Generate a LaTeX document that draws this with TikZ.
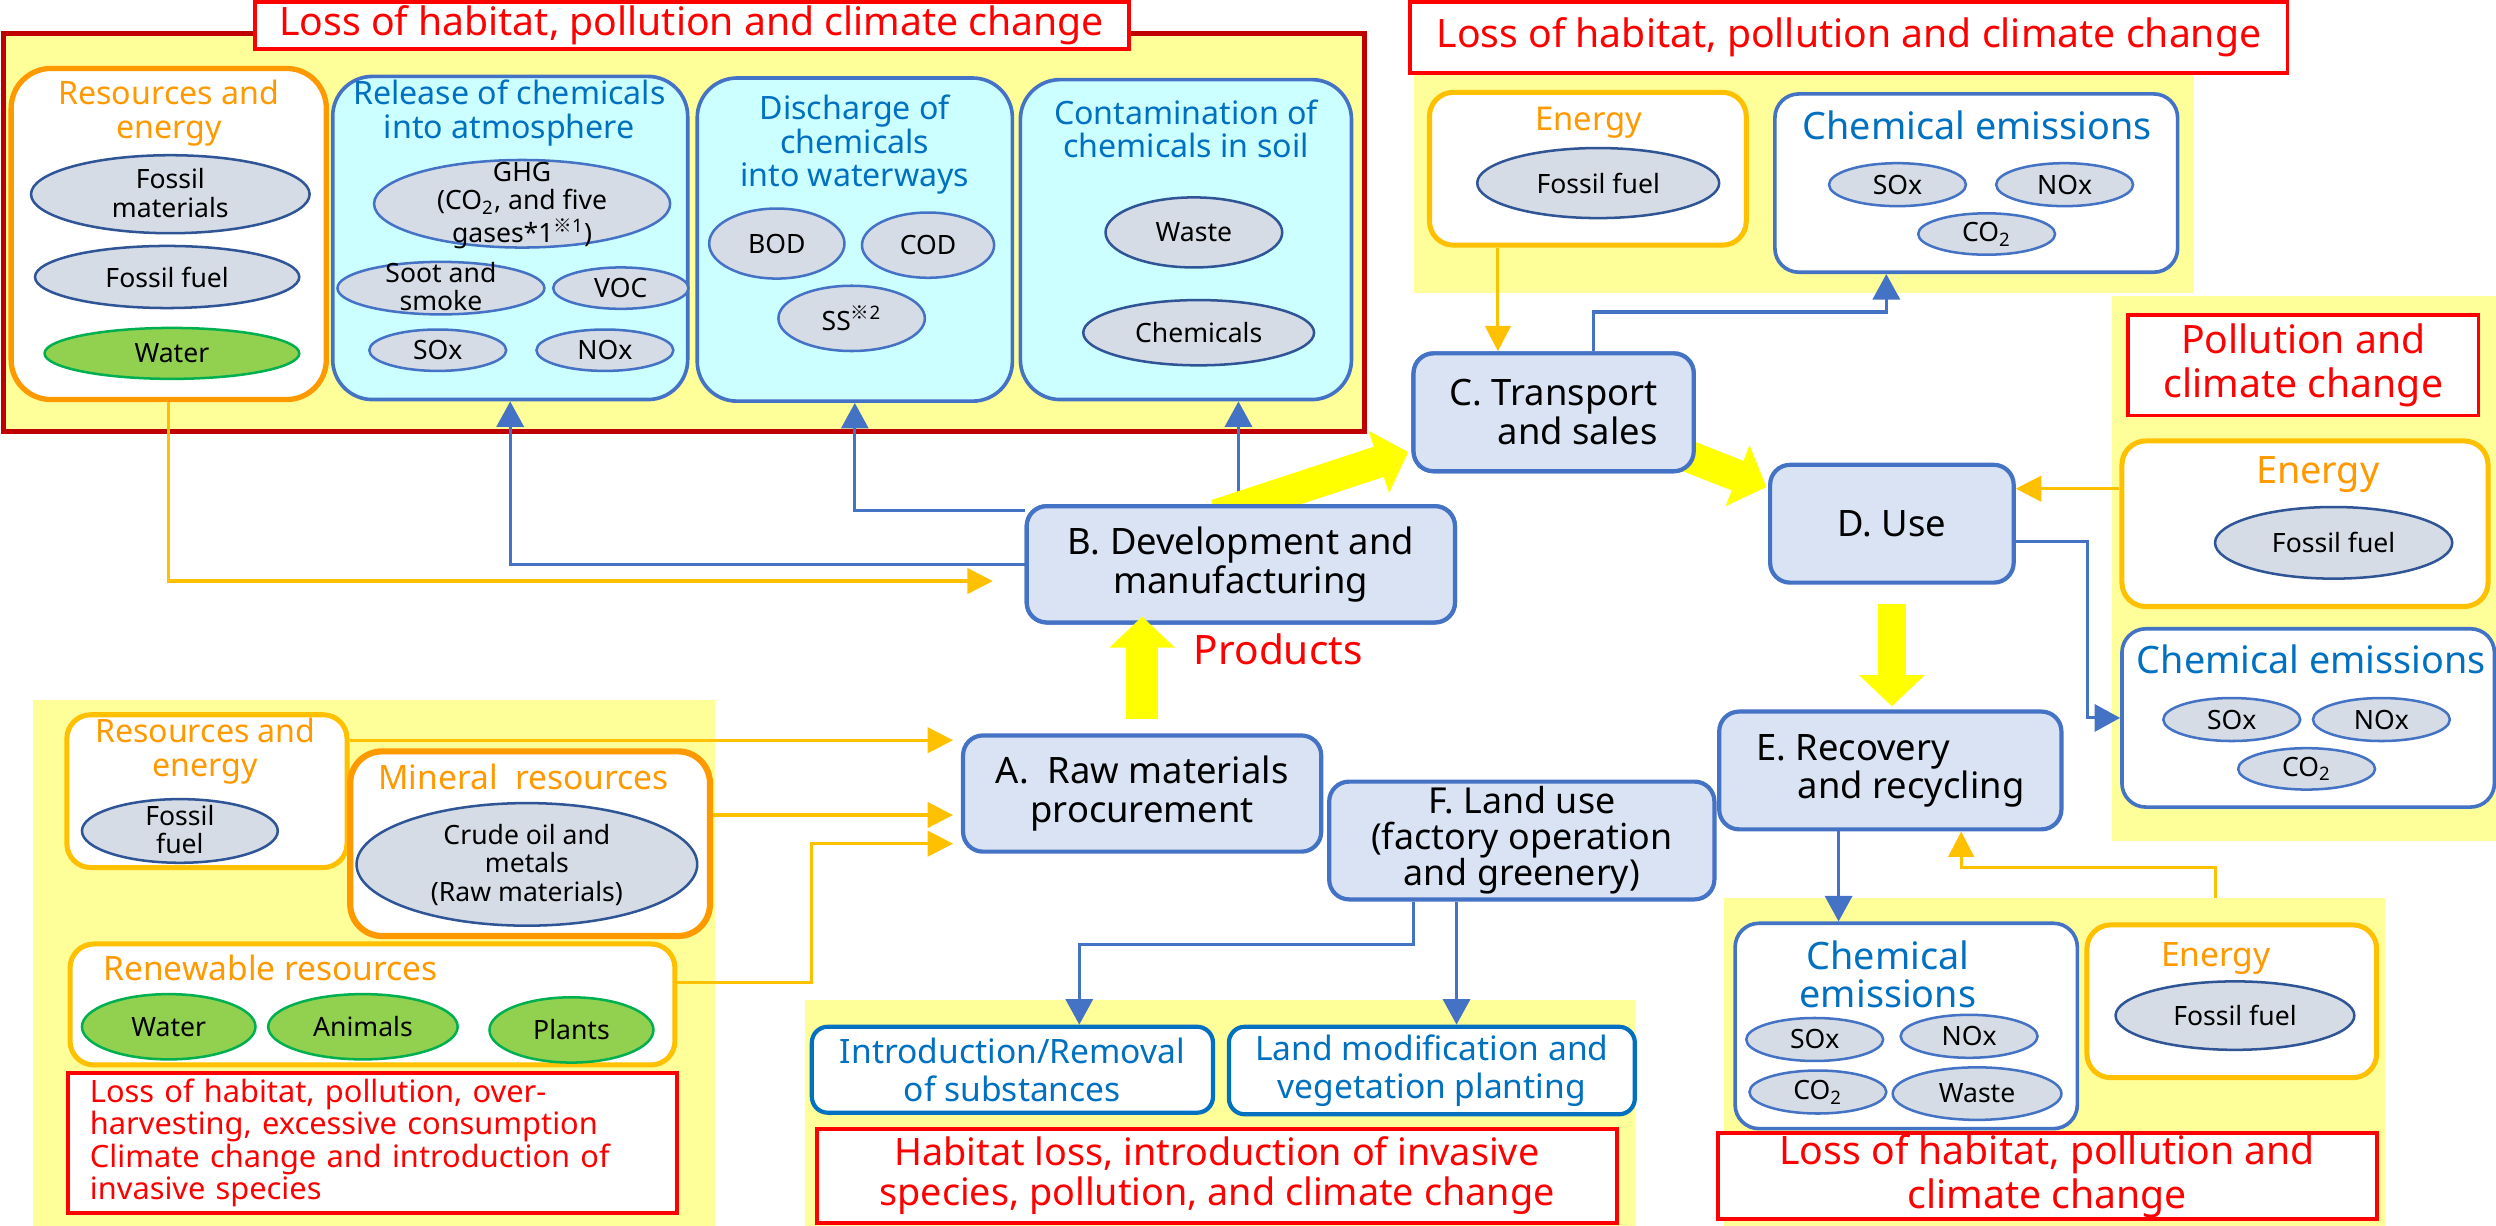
\documentclass[tikz,border=0pt]{standalone}
\usepackage{fontspec}
\setmainfont{Noto Sans}
\newfontfamily\cjk{Noto Sans CJK JP}
\usetikzlibrary{positioning,shapes.geometric,arrows.meta}

\definecolor{yellowBg}{HTML}{FFFF99}
\definecolor{darkRed}{HTML}{C00000}
\definecolor{alertRed}{HTML}{FF0000}
\definecolor{orangeTxt}{HTML}{FF9900}
\definecolor{goldLine}{HTML}{FFC000}
\definecolor{blueLine}{HTML}{4472C4}
\definecolor{blueTxt}{HTML}{0070C0}
\definecolor{cyanFill}{HTML}{CCFFFF}
\definecolor{greyFill}{HTML}{D6DCE5}
\definecolor{navyLine}{HTML}{2F5597}
\definecolor{greenFill}{HTML}{92D050}
\definecolor{greenLine}{HTML}{00B050}
\definecolor{procFill}{HTML}{DAE3F3}
\definecolor{bigYellow}{HTML}{FFFF00}

\newcommand{\ctr}[1]{\smash{\raisebox{-3.2pt}{\begin{tabular}{@{}c@{}}#1\end{tabular}}}}
\newcommand{\refmark}[1]{\textsuperscript{{\cjk ※}#1}}

\begin{document}
\begin{tikzpicture}
[
x=0.2mm, y=-0.2mm,
bg-a/.style={fill=yellowBg, draw=none, inner sep=0, outer sep=0},
warn-a/.style={draw=alertRed, line width=1.4pt, fill=white, text=alertRed, align=center, inner sep=0, font=\fontsize{14}{15.5}\selectfont},
grp-o/.style={draw=orangeTxt, line width=1.9pt, fill=white, rounded corners=5mm, inner sep=0},
grp-g/.style={draw=goldLine, line width=1.8pt, fill=white, rounded corners=3mm, inner sep=0},
grp-c/.style={draw=blueLine, line width=1.3pt, fill=cyanFill, rounded corners=5mm, inner sep=0},
grp-b/.style={draw=blueLine, line width=1.3pt, fill=white, rounded corners=3mm, inner sep=0},
grp-s/.style={draw=blueTxt, line width=1.5pt, fill=white, rounded corners=2mm, inner sep=0, text=blueTxt, align=center, font=\fontsize{12}{13.7}\selectfont},
head-o/.style={text=orangeTxt, align=center, inner sep=0, font=\fontsize{11.5}{12}\selectfont},
head-b/.style={text=blueTxt, align=center, inner sep=0, font=\fontsize{11.5}{12}\selectfont},
item-a/.style={ellipse, draw=navyLine, line width=0.9pt, fill=greyFill, inner sep=0, font=\fontsize{9.5}{10}\selectfont},
item-b/.style={item-a, draw=blueLine},
item-g/.style={item-a, draw=greenLine, fill=greenFill},
proc-a/.style={draw=blueLine, line width=1.5pt, fill=procFill, rounded corners=2.5mm, align=center, inner sep=0, font=\fontsize{13}{14}\selectfont},
link-g/.style={draw=goldLine, line width=1.1pt, -{Triangle[length=3.2mm,width=3.2mm]}},
link-b/.style={draw=blueLine, line width=1.1pt, -{Triangle[length=3.2mm,width=3.4mm]}},
flow-a/.style={draw=bigYellow, line width=4mm, -{Triangle[length=3.9mm,width=8mm]}}
]
\useasboundingbox (0,0) rectangle (1568,770);

% yellow areas
\node (bg-tl) [bg-a, draw=darkRed, line width=1.7pt, minimum width=171mm, minimum height=50mm] at (429.5,146) {};
\node (bg-tr) [bg-a, minimum width=98mm,   minimum height=27.6mm] at (1133,115)   {};
\node (bg-r)  [bg-a, minimum width=48.2mm, minimum height=68.4mm] at (1447.5,357) {};
\node (bg-bl) [bg-a, minimum width=85.6mm, minimum height=66mm]   at (235,605)    {};
\node (bg-bm) [bg-a, minimum width=104.2mm,minimum height=28.4mm] at (766.5,699)  {};
\node (bg-br) [bg-a, minimum width=83mm,   minimum height=41.2mm] at (1290.5,667) {};

% impact boxes
\node (warn-tl) [warn-a, minimum width=109.8mm, minimum height=6mm]    at (434.5,16)   {Loss of habitat, pollution and climate change};
\node (warn-tr) [warn-a, minimum width=110.2mm, minimum height=9mm]    at (1161.5,23.5){Loss of habitat, pollution and climate change};
\node (warn-r)  [warn-a, minimum width=44mm,    minimum height=12.6mm] at (1447,229.5) {Pollution and\\climate change};
\node (warn-bl) [warn-a, minimum width=76.4mm,  minimum height=17.6mm, text width=71mm, align=left, font=\fontsize{11}{11.6}\selectfont] at (234,718)
  {Loss of habitat, pollution, over-\\harvesting, excessive consumption\\Climate change and introduction of\\invasive species};
\node (warn-bm) [warn-a, minimum width=100.6mm, minimum height=11.8mm, font=\fontsize{13.5}{14.5}\selectfont] at (764.5,738.5)
  {Habitat loss, introduction of invasive\\species, pollution, and climate change};
\node (warn-br) [warn-a, minimum width=82.8mm,  minimum height=10.8mm] at (1286,739) {Loss of habitat, pollution and\\climate change};

% top-left group
\node (res-tl) [grp-o, minimum width=39.6mm, minimum height=41.6mm] at (106,147)   {};
\node (rel-tl) [grp-c, minimum width=44.6mm, minimum height=40.6mm] at (320.5,149.5) {};
\node (dis-tl) [grp-c, minimum width=39.6mm, minimum height=40.6mm] at (537,150.5) {};
\node (con-tl) [grp-c, minimum width=41.6mm, minimum height=40.2mm] at (745,150.5) {};
\node (res-tl-h) [head-o] at (106,71) {Resources and\\energy};
\node (rel-tl-h) [head-b] at (320,71) {Release of chemicals\\into atmosphere};
\node (dis-tl-h) [head-b] at (537,91) {Discharge of\\chemicals\\into waterways};
\node (con-tl-h) [head-b] at (745,81) {Contamination of\\chemicals in soil};
\node (fm-1)    [item-a, minimum width=35mm,   minimum height=9.8mm] at (107,122) {\ctr{Fossil\\materials}};
\node (ff-1)    [item-a, minimum width=33.2mm, minimum height=7.8mm] at (105,174) {Fossil fuel};
\node (wa-1)    [item-g, minimum width=32mm,   minimum height=6.4mm] at (108,222) {Water};
\node (ghg)     [item-b, minimum width=37.2mm, minimum height=11mm]  at (328,128) {\ctr{GHG\\(CO\textsubscript{2}, and five\\gases*1\refmark{1})}};
\node (soot)    [item-b, minimum width=26mm,   minimum height=6.6mm] at (277,181) {\ctr{Soot and\\smoke}};
\node (voc)     [item-b, minimum width=17mm,   minimum height=5.2mm] at (390,181) {VOC};
\node (sox-1)   [item-b, minimum width=17.2mm, minimum height=5.2mm] at (275,220) {SOx};
\node (nox-1)   [item-b, minimum width=17.2mm, minimum height=5.2mm] at (380,220) {NOx};
\node (bod)     [item-b, minimum width=17mm,   minimum height=8.8mm] at (488,153) {BOD};
\node (cod)     [item-b, minimum width=16.6mm, minimum height=8.2mm] at (583,154) {COD};
\node (ss)      [item-b, minimum width=18.4mm, minimum height=8.2mm] at (535,200) {SS\refmark{2}};
\node (waste-1) [item-a, minimum width=22.2mm, minimum height=8.8mm] at (750,146) {Waste};
\node (chem-1)  [item-a, minimum width=29mm,   minimum height=8.2mm] at (753,209) {Chemicals};

% top-right group
\node (en-tr) [grp-g, minimum width=39.8mm, minimum height=19.2mm] at (997.5,106) {};
\node (ch-tr) [grp-b, minimum width=50.6mm, minimum height=22.4mm] at (1241.5,115) {};
\node (en-tr-h) [head-o, font=\fontsize{11.7}{12}\selectfont] at (998,77)  {Energy};
\node (ch-tr-h) [head-b, font=\fontsize{13.5}{14}\selectfont] at (1242,79) {Chemical emissions};
\node (ff-2)  [item-a, minimum width=30.4mm, minimum height=8.8mm] at (1004,115) {Fossil fuel};
\node (sox-2) [item-b, minimum width=17.2mm, minimum height=5.4mm] at (1192,116) {SOx};
\node (nox-2) [item-b, minimum width=17.2mm, minimum height=5.4mm] at (1297,116) {NOx};
\node (co2-2) [item-b, minimum width=17.2mm, minimum height=5.2mm] at (1248,147) {CO\textsubscript{2}};

% right group
\node (en-r) [grp-g, minimum width=46mm,   minimum height=20.8mm] at (1448,329) {};
\node (ch-r) [grp-b, minimum width=46.8mm, minimum height=22.4mm] at (1450,451) {};
\node (en-r-h) [head-o, font=\fontsize{13.5}{14}\selectfont] at (1456,298) {Energy};
\node (ch-r-h) [head-b, font=\fontsize{13.5}{14}\selectfont] at (1452,414) {Chemical emissions};
\node (ff-3)  [item-a, minimum width=29.8mm, minimum height=9mm]   at (1466,341) {Fossil fuel};
\node (sox-3) [item-b, minimum width=17.2mm, minimum height=5.4mm] at (1402,452) {SOx};
\node (nox-3) [item-b, minimum width=17.2mm, minimum height=5.4mm] at (1496,452) {NOx};
\node (co2-3) [item-b, minimum width=17.2mm, minimum height=5.2mm] at (1449,483) {CO\textsubscript{2}};

% bottom-left group
\node (res-bl) [grp-g, minimum width=35.2mm, minimum height=19.2mm] at (130,497) {};
\node (min-bl) [grp-o, line width=2.2pt, rounded corners=4mm, minimum width=45.2mm, minimum height=23.2mm] at (333,530) {};
\node (ren-bl) [grp-g, minimum width=76mm,   minimum height=15.2mm] at (234,631) {};
\node (res-bl-h) [head-o] at (129,472) {Resources and\\energy};
\node (min-bl-h) [head-o, font=\fontsize{12}{13}\selectfont] at (329,488) {Mineral~~resources};
\node (ren-bl-h) [head-o, font=\fontsize{12}{13}\selectfont] at (170,608) {Renewable resources};
\node (ff-4)  [item-a, minimum width=24.6mm, minimum height=8mm]    at (113,522) {\ctr{Fossil\\fuel}};
\node (crude) [item-a, minimum width=42.8mm, minimum height=15.4mm] at (331,543) {\ctr{Crude oil and\\metals\\(Raw materials)}};
\node (wa-2)  [item-g, minimum width=21.8mm, minimum height=8.2mm]  at (106,645) {Water};
\node (ani)   [item-g, minimum width=23.8mm, minimum height=8.2mm]  at (228,645) {Animals};
\node (pla)   [item-g, minimum width=20.6mm, minimum height=8.2mm]  at (359,647) {Plants};

% bottom-middle group
\node (int-bm) [grp-s, minimum width=50.4mm, minimum height=10.8mm] at (636,672)   {Introduction/Removal\\of substances};
\node (lan-bm) [grp-s, minimum width=51mm,   minimum height=11mm]   at (899.5,672.5) {Land modification and\\vegetation planting};

% bottom-right group
\node (ch-br) [grp-b, minimum width=43mm,   minimum height=25.8mm] at (1197.5,644.5) {};
\node (en-br) [grp-g, minimum width=36.4mm, minimum height=19.2mm] at (1402,629) {};
\node (ch-br-h) [head-b, font=\fontsize{13.5}{13.6}\selectfont] at (1186,612) {Chemical\\emissions};
\node (en-br-h) [head-o, font=\fontsize{12}{12.5}\selectfont] at (1392,602) {Energy};
\node (sox-4)   [item-b, minimum width=17.2mm, minimum height=5.4mm] at (1140,653) {SOx};
\node (nox-4)   [item-b, minimum width=17.2mm, minimum height=5.4mm] at (1237,651) {NOx};
\node (co2-4)   [item-b, minimum width=17.2mm, minimum height=5.4mm] at (1142,686) {CO\textsubscript{2}};
\node (waste-2) [item-b, minimum width=21.2mm, minimum height=6.6mm] at (1242,687) {Waste};
\node (ff-5)    [item-a, minimum width=30mm,   minimum height=8.6mm] at (1404,638) {Fossil fuel};

% process steps
\coordinate (c-bend) at (1185,196);
\coordinate (r-bend) at (510,530);
\path (717.5,498.5) coordinate (A-c) (779.5,354.5) coordinate (B-c) (976,259) coordinate (C-c)
      (1188.5,329) coordinate (D-c) (1187.5,484) coordinate (E-c) (956,528) coordinate (F-c);
\node (A) [proc-a, minimum width=45mm,   minimum height=14.6mm, font=\fontsize{13}{13.7}\selectfont] at (A-c) {A.~~Raw materials\\procurement};
\node (B) [proc-a, minimum width=53.8mm, minimum height=14.6mm] at (B-c) {B. Development and\\manufacturing};
\node (C) [proc-a, minimum width=35.2mm, minimum height=14.8mm, align=right] at (C-c) {C. Transport\\and sales};
\node (D) [proc-a, minimum width=30.6mm, minimum height=14.8mm] at (D-c) {D. Use};
\node (E) [proc-a, minimum width=43mm,   minimum height=14.8mm, align=left, font=\fontsize{13}{13.6}\selectfont] at (E-c) {E. Recovery\\\hspace*{1.15em}and recycling};
\node (F) [proc-a, minimum width=48.4mm, minimum height=14.8mm, font=\fontsize{12.8}{12.9}\selectfont] at (F-c) {F. Land use\\(factory operation\\and greenery)};

% links
\draw[link-g, shorten >=4mm] (res-tl.south) |- ([yshift=-2.1mm]B.west);
\draw[link-b] (B.west) -| (rel-tl.south);
\draw[link-b] ([yshift=-0.8mm]B.north west) -| (dis-tl.south);
\draw[link-b] ([xshift=-0.3mm]B.north) -- ([xshift=-0.3mm]B.north |- con-tl.south);
\draw[link-g] ([xshift=-11.3mm]en-tr.south) -- ([xshift=-11.3mm]en-tr.south |- C.north);
\draw[link-b] ([xshift=5mm]C.north) |- (c-bend) -- (c-bend |- ch-tr.south);
\draw[link-g] ([yshift=4.4mm]en-r.west) -- ([yshift=4.4mm]en-r.west -| D.east);
\draw[link-b] ([yshift=-2.2mm]D.east) -- ++(45,0) |- (ch-r.west);
\draw[link-b] ([xshift=-6.5mm]E.south) -- ([xshift=-6.5mm]E.south |- ch-br.north);
\draw[link-g] ([xshift=-2mm]en-br.north |- bg-br.north) -- ++(0,-19) -| ([xshift=8.9mm]E.south);
\draw[link-g, shorten >=1mm] ([yshift=6.4mm]res-bl.east) -- ([yshift=6.4mm]res-bl.east -| A.west);
\draw[link-g, shorten >=1mm] ([yshift=3.6mm]min-bl.east) -- ([yshift=3.6mm]min-bl.east -| A.west);
\draw[link-g, shorten >=1mm] ([yshift=2.8mm]ren-bl.east) -| (r-bend) -- (r-bend -| A.west);
\draw[link-b] ([xshift=-13.6mm]F.south) -- ++(0,27) -| ([xshift=8.4mm]int-bm.north);
\draw[link-b] ([xshift=-8.2mm]F.south) -- ([xshift=-8.2mm]F.south |- lan-bm.north);

% main flow
\draw[flow-a] ([xshift=-3.1mm,yshift=-1.4mm]B.north) -- ([xshift=-0.4mm,yshift=-5mm]C.west);
\draw[flow-a] ([xshift=-4.8mm,yshift=-4mm]C.east) -- ([xshift=-0.2mm,yshift=4.6mm]D.west);
\node (B2) [proc-a, minimum width=53.8mm, minimum height=14.6mm] at (B-c) {B. Development and\\manufacturing};
\node (C2) [proc-a, minimum width=35.2mm, minimum height=14.8mm, align=right] at (C-c) {C. Transport\\and sales};
\coordinate (p-top) at (A.north |- B.south);
\coordinate (e-top) at (D.south |- E.north);
\draw[flow-a] ([yshift=1.8mm]A.north) -- ([yshift=1mm]p-top);
\draw[flow-a, line width=3.6mm] ([yshift=-2.4mm]D.south) -- ([yshift=0.4mm]e-top);
\node (prod) [text=alertRed, inner sep=0, font=\fontsize{14.5}{15}\selectfont] at (803,408) {Products};
\end{tikzpicture}
\end{document}
